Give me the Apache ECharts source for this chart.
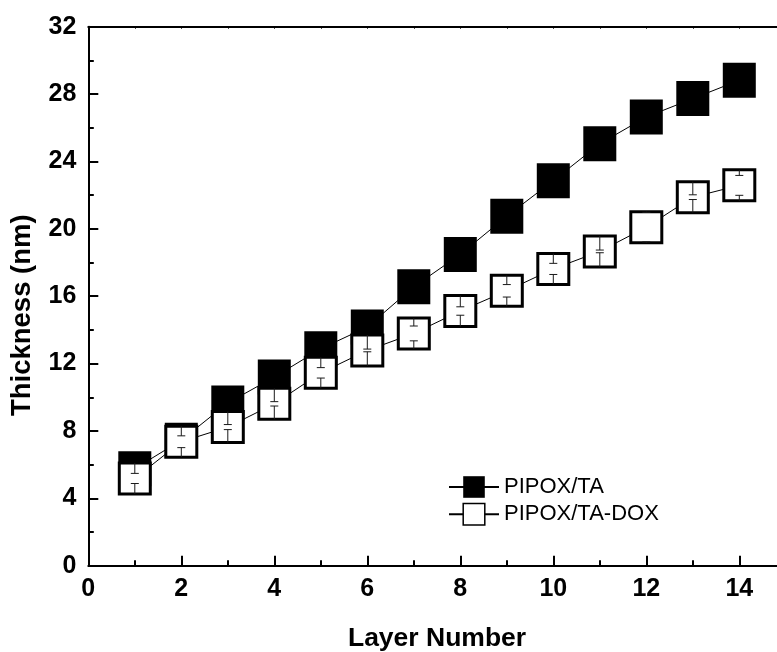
<!DOCTYPE html>
<html>
<head>
<meta charset="utf-8">
<script src="https://cdn.jsdelivr.net/npm/echarts@6/dist/echarts.min.js"></script>
<style>
  html, body { margin: 0; padding: 0; background: #fff; }
  #chart { width: 777px; height: 652px; }
</style>
</head>
<body>
<div id="chart"></div>
<script>
// Film thickness versus number of deposited layers
const layers = [1, 2, 3, 4, 5, 6, 7, 8, 9, 10, 11, 12, 13, 14];
const taThickness = [5.76, 7.45, 9.66, 11.2, 12.88, 14.17, 16.56, 18.48, 20.75, 22.86, 25.05, 26.64, 27.73, 28.82];
const doxThickness = [5.18, 7.36, 8.23, 9.61, 11.45, 12.78, 13.79, 15.12, 16.32, 17.62, 18.66, 20.1, 21.88, 22.58];
const doxError = [0.3, 0.35, 0.15, 0.13, 0.31, 0.08, 0.44, 0.25, 0.37, 0.33, 0.08, 0.88, 0.14, 0.59];
const xTicks = [0, 2, 4, 6, 8, 10, 12, 14];
const yTicks = [0, 4, 8, 12, 16, 20, 24, 28, 32];

const FONT = '"Liberation Sans", Arial, Helvetica, sans-serif';
const INNER_HALF = 15.5; // inner half-size of the open square marker, px

const chart = echarts.init(document.getElementById('chart'), null, { renderer: 'canvas' });

const taData = layers.map((x, i) => [x, taThickness[i]]);
const doxData = layers.map((x, i) => [x, doxThickness[i]]);
const errData = layers.map((x, i) => [x, doxThickness[i], doxError[i]]);

const xLabelSet = new Set(xTicks);
const yLabelSet = new Set(yTicks);

function renderErrorBar(params, api) {
  const x = api.value(0), y = api.value(1), e = api.value(2);
  const c = api.coord([x, y]);
  const hi = api.coord([x, y + e]);
  const lo = api.coord([x, y - e]);
  const cap = 4;
  const style = { stroke: '#1a1a1a', lineWidth: 1 };
  return {
    type: 'group',
    children: [
      { type: 'line', shape: { x1: c[0], y1: c[1] - INNER_HALF, x2: c[0], y2: hi[1] }, style },
      { type: 'line', shape: { x1: c[0], y1: lo[1], x2: c[0], y2: c[1] + INNER_HALF }, style },
      { type: 'line', shape: { x1: c[0] - cap, y1: hi[1], x2: c[0] + cap, y2: hi[1] }, style },
      { type: 'line', shape: { x1: c[0] - cap, y1: lo[1], x2: c[0] + cap, y2: lo[1] }, style }
    ]
  };
}

const option = {
  backgroundColor: '#ffffff',
  animation: false,
  textStyle: { fontFamily: FONT },
  grid: {
    left: 88.3, top: 26.7, width: 697.5, height: 539,
    containLabel: false, outerBoundsMode: 'none'
  },
  legend: {
    orient: 'vertical',
    left: 443,
    top: 468.5,
    itemWidth: 50,
    itemHeight: 27,
    itemGap: 0.3,
    textStyle: { fontFamily: FONT, fontSize: 22, color: '#000', lineHeight: 27 },
    data: [
      { name: 'PIPOX/TA', itemStyle: { color: '#000', borderWidth: 0 } },
      { name: 'PIPOX/TA-DOX', itemStyle: { color: '#fff', borderColor: '#000', borderWidth: 1.5 } }
    ]
  },
  xAxis: [
    {
      type: 'value', position: 'bottom', min: 0, max: 15, interval: 2,
      name: 'Layer Number', nameLocation: 'middle', nameGap: 59, nameMoveOverlap: false,
      nameTextStyle: { fontFamily: FONT, fontSize: 26.5, fontWeight: 'bold', color: '#000' },
      axisLine: { show: true, onZero: false, lineStyle: { color: '#000', width: 2 } },
      axisTick: { show: true, inside: true, length: 10, lineStyle: { color: '#000', width: 2 } },
      axisLabel: {
        margin: 11, fontFamily: FONT, fontSize: 25, fontWeight: 'bold', color: '#000',
        formatter: v => (xLabelSet.has(v) ? String(v) : '')
      },
      splitLine: { show: false }
    },
    {
      // odd-layer minor ticks along the bottom
      type: 'value', position: 'bottom', min: 0, max: 15, interval: 1,
      axisLine: { show: false, onZero: false },
      axisTick: { show: true, inside: true, length: 5.5, lineStyle: { color: '#000', width: 2 } },
      axisLabel: { show: false },
      splitLine: { show: false }
    },
    {
      // top frame with small ticks
      type: 'value', position: 'top', min: 0, max: 15, interval: 1,
      axisLine: { show: true, onZero: false, lineStyle: { color: '#000', width: 2 } },
      axisTick: { show: true, inside: true, length: 2, lineStyle: { color: '#000', width: 1 } },
      axisLabel: { show: false },
      splitLine: { show: false }
    }
  ],
  yAxis: {
    type: 'value', min: 0, max: 32, interval: 4,
    name: 'Thickness (nm)', nameLocation: 'middle', nameGap: 52, nameRotate: 90, nameMoveOverlap: false,
    nameTextStyle: { fontFamily: FONT, fontSize: 27.5, fontWeight: 'bold', color: '#000', padding: [0, 38, 0, 0] },
    axisLine: { show: true, onZero: false, lineStyle: { color: '#000', width: 2 } },
    axisTick: { show: true, inside: true, length: 10, lineStyle: { color: '#000', width: 2 } },
    minorTick: { show: true, splitNumber: 2, length: 5.5, lineStyle: { color: '#000', width: 2 } },
    axisLabel: {
      margin: 12, fontFamily: FONT, fontSize: 25, fontWeight: 'bold', color: '#000',
      formatter: v => (yLabelSet.has(v) ? String(v) : '')
    },
    splitLine: { show: false }
  },
  series: [
    {
      name: 'PIPOX/TA', type: 'line', xAxisIndex: 0, data: taData,
      symbol: 'rect', symbolSize: [33, 35],
      itemStyle: { color: '#000', borderWidth: 0 },
      lineStyle: { color: '#000', width: 1 },
      z: 2
    },
    {
      name: 'PIPOX/TA-DOX', type: 'line', xAxisIndex: 0, data: doxData,
      symbol: 'rect', symbolSize: 31,
      itemStyle: { color: '#fff', borderColor: '#000', borderWidth: 3 },
      lineStyle: { color: '#000', width: 1 },
      z: 3
    },
    {
      name: 'DOX error', type: 'custom', xAxisIndex: 0, data: errData,
      renderItem: renderErrorBar, z: 4, silent: true
    }
  ]
};

chart.setOption(option);
</script>
</body>
</html>
